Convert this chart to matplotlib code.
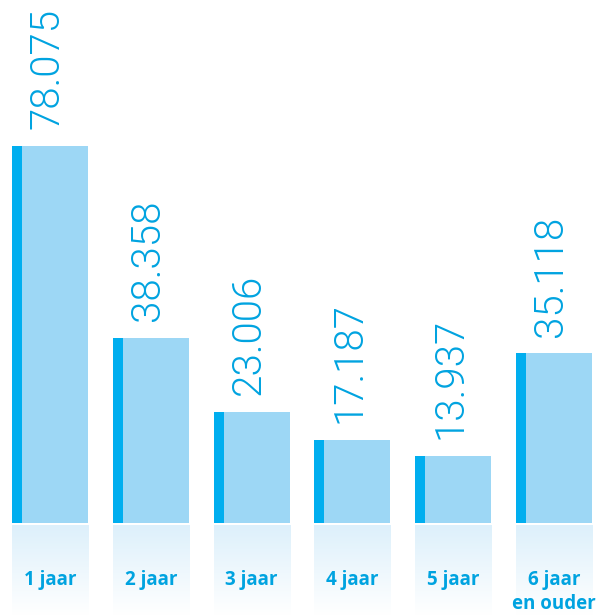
import numpy as np
import matplotlib
matplotlib.use("Agg")
import matplotlib.pyplot as plt
from matplotlib.colors import LinearSegmentedColormap

categories = ["1 jaar", "2 jaar", "3 jaar", "4 jaar", "5 jaar", "6 jaar\nen ouder"]
values = [78.075, 38.358, 23.006, 17.187, 13.937, 35.118]
value_labels = ["78.075", "38.358", "23.006", "17.187", "13.937", "35.118"]

bar_color = "#9dd7f5"
stripe_color = "#00aeef"
text_color = "#00a3e0"

fig = plt.figure(figsize=(6.0, 6.15), dpi=100)
ax = fig.add_axes([0, 0, 1, 1])
ax.set_xlim(-0.496, 5.456)
ax.set_ylim(-19.05, 108.3)
ax.axis("off")

x = np.arange(len(values))
width = 0.755
left = x - width / 2

ax.bar(left, values, width=width, align="edge", color=bar_color, linewidth=0)
ax.bar(left, values, width=0.1, align="edge", color=stripe_color, linewidth=0)

# fading panel under each bar
fade = LinearSegmentedColormap.from_list("fade", ["#ffffff", "#ddf0fb"])
grad = np.linspace(0, 1, 256).reshape(-1, 1)
for l in left:
    ax.imshow(grad, cmap=fade, aspect="auto", origin="lower",
              extent=(l, l + width, -19.05, -0.45), zorder=0)

for xi, v, lab in zip(x, values, value_labels):
    ax.text(xi - 0.03, v + 3.5, lab, rotation=90, ha="center", va="bottom",
            fontsize=29, family="Roboto", fontweight=300, color=text_color)

# category names, one line at a time
for xi, cat in zip(x, categories):
    for k, line in enumerate(cat.split("\n")):
        ax.text(xi, -11.7 - 5.1 * k, line, ha="center", va="center",
                fontsize=13.5, fontweight=700, family="Open Sans", color=text_color)

fig.savefig("out.png", dpi=100)
